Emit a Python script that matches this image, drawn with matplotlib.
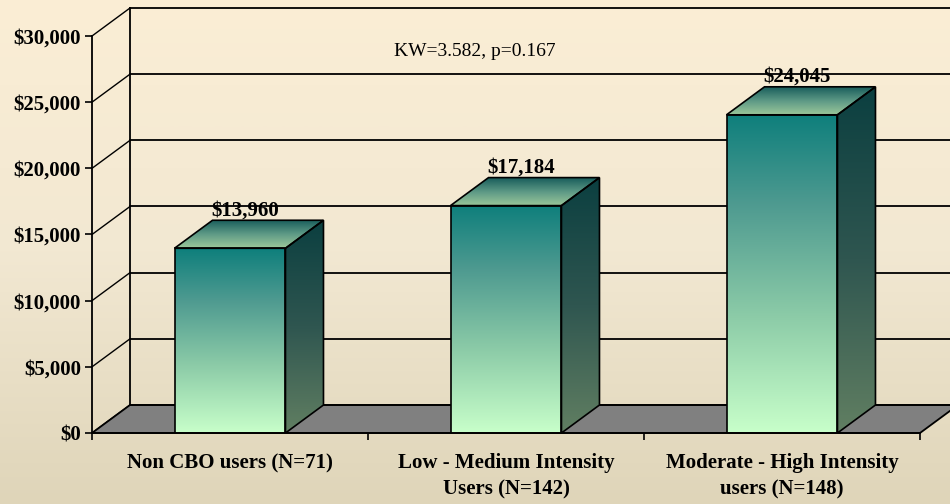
import numpy as np
import matplotlib
matplotlib.use("Agg")
import matplotlib.pyplot as plt
from matplotlib.colors import LinearSegmentedColormap
from matplotlib.patches import Polygon

categories = ["Non CBO users (N=71)", "Low - Medium Intensity\nUsers (N=142)",
              "Moderate - High Intensity\nusers (N=148)"]
values = [13960, 17184, 24045]
value_labels = ["$13,960", "$17,184", "$24,045"]
y_ticks = [0, 5000, 10000, 15000, 20000, 25000, 30000]
y_tick_labels = ["$0", "$5,000", "$10,000", "$15,000", "$20,000", "$25,000", "$30,000"]
annotation = "KW=3.582, p=0.167"

W, H, DPI = 950, 504, 100
fig = plt.figure(figsize=(W / DPI, H / DPI), dpi=DPI)

# background gradient
bg = fig.add_axes([0, 0, 1, 1], zorder=-10)
bg_cmap = LinearSegmentedColormap.from_list("bg", ["#DFD5B9", "#F2E8D2", "#FBEED5"])
bg.imshow(np.linspace(0, 1, 256).reshape(-1, 1), cmap=bg_cmap, aspect="auto",
          origin="lower", extent=[0, 1, 0, 1], interpolation="bicubic")
bg.set_axis_off()

# main axes (front plane)
ax_l, ax_r, ax_b, ax_t = 92, 920, 433, 36
ax = fig.add_axes([ax_l / W, (H - ax_b) / H, (ax_r - ax_l) / W, (ax_b - ax_t) / H])
ax.patch.set_alpha(0)
xmin, xmax, ymin, ymax = -0.5, 2.5, 0, 30000
ax.set_xlim(xmin, xmax)
ax.set_ylim(ymin, ymax)
for s in ax.spines.values():
    s.set_visible(False)

# depth offset in data units (38 px right, 28 px up)
px_x = (ax_r - ax_l) / (xmax - xmin)
px_y = (ax_b - ax_t) / (ymax - ymin)
ddx = 38 / px_x
ddy = 28 / px_y

lw = 1.3
# floor
floor = Polygon([(xmin, 0), (xmax, 0), (xmax + ddx, ddy), (xmin + ddx, ddy)],
                closed=True, facecolor="#808080", edgecolor="black", lw=lw,
                clip_on=False, zorder=2)
ax.add_patch(floor)

# back wall gridlines and left wall diagonals
for v in y_ticks:
    ax.plot([xmin + ddx, xmax + ddx + 0.2], [v + ddy, v + ddy], color="black",
            lw=lw, clip_on=False, zorder=3 if v == 0 else 1)
    ax.plot([xmin, xmin + ddx], [v, v + ddy], color="black", lw=1.0,
            clip_on=False, zorder=1)
ax.plot([xmin + ddx, xmin + ddx], [ddy, ymax + ddy], color="black", lw=lw,
        clip_on=False, zorder=3)
# front axis lines
ax.plot([xmin, xmin], [0, ymax], color="black", lw=lw, clip_on=False, zorder=6)
ax.plot([xmin, xmax], [0, 0], color="black", lw=lw, clip_on=False, zorder=6)

front_cmap = LinearSegmentedColormap.from_list(
    "front", [(0, "#C8FFCA"), (0.36, "#8DCCA8"), (0.72, "#4E9A90"), (1, "#0E7F7C")])
side_cmap = LinearSegmentedColormap.from_list(
    "side", [(0, "#617F62"), (0.5, "#2F5650"), (1, "#0B3F40")])
top_cmap = LinearSegmentedColormap.from_list(
    "top", [(0, "#9CC89A"), (0.5, "#5E9A86"), (1, "#1A5E5C")])
grad = np.linspace(0, 1, 256).reshape(-1, 1)

bw = 0.402
for i, v in enumerate(values):
    x0, x1 = i - bw / 2, i + bw / 2
    # front face
    fp = Polygon([(x0, 0), (x1, 0), (x1, v), (x0, v)], closed=True,
                 facecolor="none", edgecolor="black", lw=1.2, zorder=5)
    ax.add_patch(fp)
    im = ax.imshow(grad, cmap=front_cmap, aspect="auto", origin="lower",
                   extent=[x0, x1, 0, v], interpolation="bicubic", zorder=4)
    im.set_clip_path(fp)
    # side face
    sp = Polygon([(x1, 0), (x1 + ddx, ddy), (x1 + ddx, v + ddy), (x1, v)], closed=True,
                 facecolor="none", edgecolor="black", lw=1.2, zorder=5)
    ax.add_patch(sp)
    im = ax.imshow(grad, cmap=side_cmap, aspect="auto", origin="lower",
                   extent=[x1, x1 + ddx, 0, v + ddy], interpolation="bicubic", zorder=4)
    im.set_clip_path(sp)
    # top face
    tp = Polygon([(x0, v), (x1, v), (x1 + ddx, v + ddy), (x0 + ddx, v + ddy)], closed=True,
                 facecolor="none", edgecolor="black", lw=1.2, zorder=5)
    ax.add_patch(tp)
    im = ax.imshow(grad, cmap=top_cmap, aspect="auto", origin="lower",
                   extent=[x0, x1 + ddx, v, v + ddy], interpolation="bicubic", zorder=4)
    im.set_clip_path(tp)
    # value label
    ax.annotate(value_labels[i], (i + 0.4 * ddx, v + ddy), xytext=(0, 3.6),
                textcoords="offset points", ha="center", va="baseline",
                fontsize=15, fontweight="bold", family="Liberation Serif", zorder=7)

ax.set_xlim(xmin, xmax)
ax.set_ylim(ymin, ymax)

# ticks
ax.set_yticks(y_ticks)
ax.set_yticklabels(y_tick_labels, fontsize=15, fontweight="bold", family="Liberation Serif")
ax.tick_params(axis="y", direction="out", length=5, width=1.2, pad=3)
ax.set_xticks([-0.5, 0.5, 1.5, 2.5])
ax.set_xticklabels([])
ax.tick_params(axis="x", which="major", direction="out", length=5, width=1.2)
ax.set_xticks([0, 1, 2], minor=True)
ax.set_xticklabels(categories, minor=True, fontsize=15, fontweight="bold",
                   family="Liberation Serif", linespacing=1.4)
ax.tick_params(axis="x", which="minor", length=0, pad=14.5)

fig.text(474.5 / W, (H - 56) / H, annotation, ha="center", va="baseline",
         fontsize=14, family="Liberation Serif")

fig.savefig("out.png", dpi=DPI)
